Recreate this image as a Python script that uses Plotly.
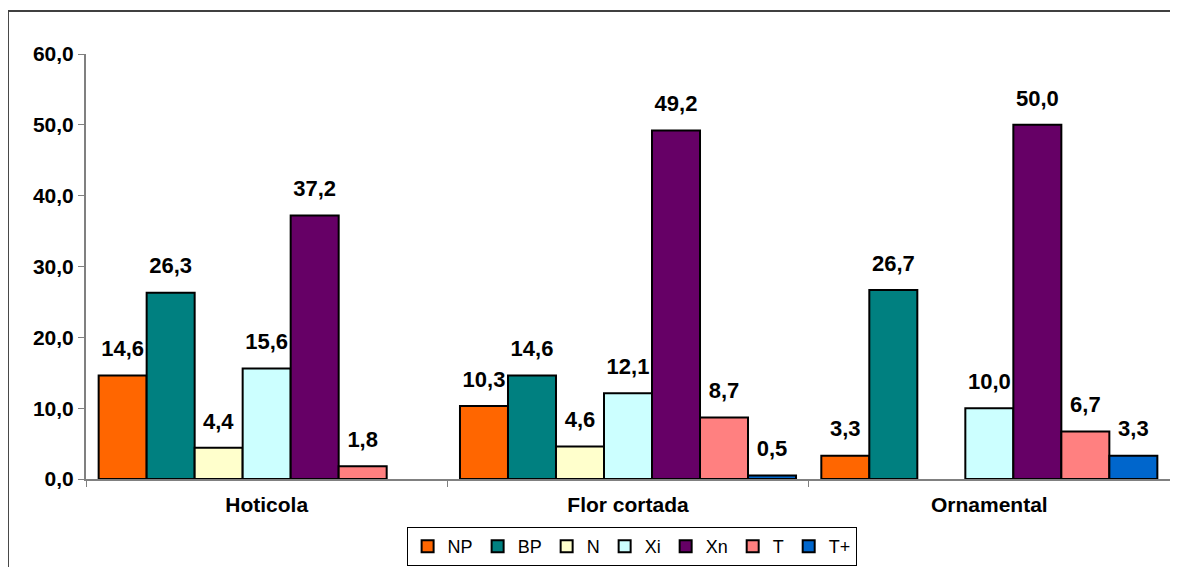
import plotly.graph_objects as go

# data
categories = ["Hoticola", "Flor cortada", "Ornamental"]
series_names = ["NP", "BP", "N", "Xi", "Xn", "T", "T+"]
np_vals = [14.6, 10.3, 3.3]
bp_vals = [26.3, 14.6, 26.7]
n_vals = [4.4, 4.6, None]
xi_vals = [15.6, 12.1, 10.0]
xn_vals = [37.2, 49.2, 50.0]
t_vals = [1.8, 8.7, 6.7]
tplus_vals = [None, 0.5, 3.3]

values = [np_vals, bp_vals, n_vals, xi_vals, xn_vals, t_vals, tplus_vals]
colors = ["#FF6600", "#008080", "#FFFFCC", "#CCFFFF", "#660066", "#FF8080", "#0066CC"]

FONT = "Arial, Liberation Sans, sans-serif"
LABEL_GAP = 1.6  # empty space (axis units) between bar top and its value label

fig = go.Figure()
for name, vals, col in zip(series_names, values, colors):
    fig.add_trace(go.Bar(
        x=categories, y=vals, name=name, offsetgroup=name,
        marker=dict(color=col, line=dict(color="black", width=2)),
    ))
    # transparent spacer bar sitting on top of each bar, carrying the label
    fig.add_trace(go.Bar(
        x=categories, y=[LABEL_GAP if v is not None else None for v in vals],
        base=vals, offsetgroup=name, showlegend=False, hoverinfo="skip",
        marker=dict(color="rgba(0,0,0,0)", line=dict(width=0)),
        text=[f"<b>{v:.1f}</b>".replace(".", ",") if v is not None else "" for v in vals],
        textposition="outside", constraintext="none",
        textfont=dict(family=FONT, size=22, color="black"),
        cliponaxis=False,
    ))

# outer chart frame (partly cut off in the original image)
fig.add_shape(type="rect", xref="paper", yref="paper",
              x0=-0.072, x1=1.05, y0=-0.25, y1=1.101,
              line=dict(color="#404040", width=2), fillcolor="rgba(0,0,0,0)",
              layer="below")

fig.update_layout(
    width=1170, height=559,
    margin=dict(l=78, r=8, t=46, b=88, autoexpand=False),
    paper_bgcolor="white", plot_bgcolor="white",
    separators=",.",
    barmode="group", bargap=0.07, bargroupgap=0,
    font=dict(family=FONT, color="black"),
    showlegend=True,
    legend=dict(
        orientation="h", xref="container", yref="container",
        x=0.533, xanchor="center", y=0.0716, yanchor="top",
        bordercolor="black", borderwidth=1, bgcolor="white",
        font=dict(family=FONT, size=18, color="black"),
        itemwidth=30, tracegroupgap=0,
    ),
)
fig.update_xaxes(
    automargin=False,
    showline=True, linecolor="#808080", linewidth=2,
    ticks="outside", tickson="boundaries", ticklen=6, tickcolor="#808080",
    tickfont=dict(family=FONT, size=21, color="black", weight="bold"),
    ticklabelstandoff=6,
    showgrid=False,
)
fig.update_yaxes(
    automargin=False,
    range=[0, 60], dtick=10, tickformat=".1f",
    showline=True, linecolor="#808080", linewidth=2,
    ticks="outside", ticklen=6, tickcolor="#808080",
    tickfont=dict(family=FONT, size=21, color="black", weight="bold"),
    showgrid=False, zeroline=False,
)

fig.write_html("out.html")
